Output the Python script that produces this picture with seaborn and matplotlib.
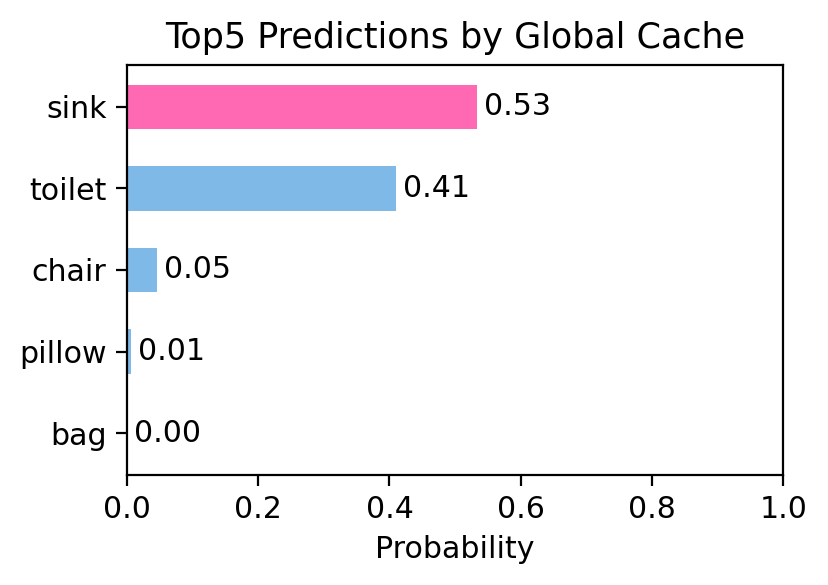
import matplotlib
matplotlib.use("Agg")
import matplotlib.pyplot as plt
import seaborn as sns
import pandas as pd

# --- data ---
labels = ['sink', 'toilet', 'chair', 'pillow', 'bag']
probs = [0.534, 0.410, 0.046, 0.0065, 0.001]
bar_colors = ['#FF69B4', '#7EB9E8', '#7EB9E8', '#7EB9E8', '#7EB9E8']

df = pd.DataFrame({'label': labels, 'prob': probs})

sns.set_theme(style="ticks")
plt.rcParams['font.family'] = ['DejaVu Sans']
for k in ['text.color', 'axes.labelcolor', 'xtick.color', 'ytick.color', 'axes.edgecolor']:
    plt.rcParams[k] = 'black'

fs = 10.8

fig, ax = plt.subplots(figsize=(4.145, 2.925), dpi=200)
fig.subplots_adjust(left=0.153, right=0.945, top=0.889, bottom=0.188)

sns.barplot(data=df, x='prob', y='label', hue='label', palette=bar_colors,
            legend=False, saturation=1, width=0.55, edgecolor='none', ax=ax)

for i, v in enumerate(probs):
    ax.text(v + 0.01, i, f"{v:.2f}", va='center', ha='left', fontsize=fs)

ax.set_xlim(0, 1.0)
ax.set_ylim(4.515, -0.515)
ax.set_xlabel('Probability', fontsize=fs)
ax.set_ylabel('')
ax.set_title('Top5 Predictions by Global Cache', fontsize=12.6)
ax.tick_params(labelsize=fs, width=0.8, length=3.8, color='black')
for s in ax.spines.values():
    s.set_visible(True)
    s.set_linewidth(0.8)
    s.set_color('black')

fig.savefig('out.png', dpi=200)
